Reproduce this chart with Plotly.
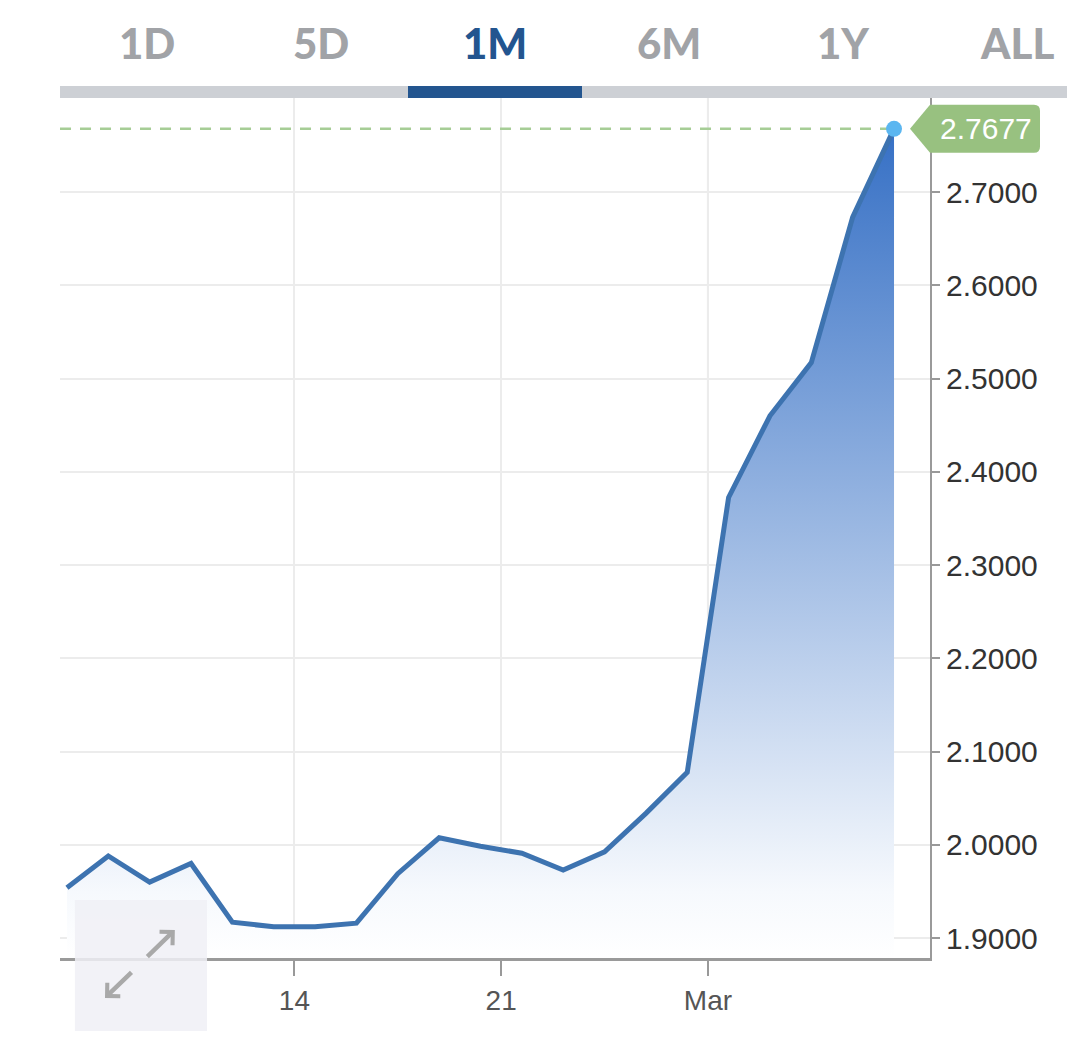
import plotly.graph_objects as go

# one session per point (weekends skipped, the axis is by session)
dates = [
    "2021-02-05",
    "2021-02-08", "2021-02-09", "2021-02-10", "2021-02-11", "2021-02-12",
    "2021-02-15", "2021-02-16", "2021-02-17", "2021-02-18", "2021-02-19",
    "2021-02-22", "2021-02-23", "2021-02-24", "2021-02-25", "2021-02-26",
    "2021-03-01", "2021-03-02", "2021-03-03", "2021-03-04", "2021-03-05",
]
values = [
    1.954,
    1.988, 1.960, 1.980, 1.917, 1.912,
    1.912, 1.916, 1.969, 2.0075, 1.9985,
    1.991, 1.973, 1.9925, 2.0337, 2.0777,
    2.3725, 2.460, 2.517, 2.673, 2.7677,
]

tick_days = ["2021-02-15", "2021-02-22", "2021-03-01"]
tick_labels = ["14", "21", "Mar"]
y_ticks = [1.9, 2.0, 2.1, 2.2, 2.3, 2.4, 2.5, 2.6, 2.7]

tabs = ["1D", "5D", "1M", "6M", "1Y", "ALL"]
active_tab = "1M"

# session index on x, ticks sit between the last session of a week and the first of the next
x = list(range(len(dates)))
tick_pos = [dates.index(d) - 0.5 for d in tick_days]
last = values[-1]

x_range = [-0.168, 20.87]
y_range = [1.8786, 2.8008]

line_blue = "#3d73b0"
green = "#98c180"

fig = go.Figure()

# area + line
fig.add_trace(go.Scatter(
    x=x, y=values, mode="lines",
    line=dict(color=line_blue, width=5),
    fill="tozeroy",
    fillgradient=dict(
        type="vertical",
        colorscale=[[0, "rgba(255,255,255,1)"], [0.08, "rgba(246,249,253,1)"], [1, "rgb(54,112,197)"]],
        start=y_range[0], stop=last,
    ),
    hoverinfo="skip", showlegend=False,
))

# dashed last-value line
fig.add_trace(go.Scatter(
    x=[x_range[0], x[-1]], y=[last, last], mode="lines",
    line=dict(color="#a6cd96", width=2.5, dash="11px,9px"),
    hoverinfo="skip", showlegend=False,
))

# last point marker
fig.add_trace(go.Scatter(
    x=[x[-1]], y=[last], mode="markers",
    marker=dict(color="#5bb6f0", size=16, line=dict(width=0)),
    hoverinfo="skip", showlegend=False, cliponaxis=False,
))

shapes = []

# darker gridline at the month boundary
shapes.append(dict(type="line", xref="x", yref="paper", x0=tick_pos[2], x1=tick_pos[2], y0=0, y1=1,
                   line=dict(color="#d9d9d9", width=2), layer="below"))

# tab bar
shapes.append(dict(type="rect", xref="paper", yref="paper", x0=0, x1=1.2, y0=1.0, y1=1.014,
                   fillcolor="#cdd0d5", line=dict(width=0)))
i_act = tabs.index(active_tab)
shapes.append(dict(type="rect", xref="paper", yref="paper", x0=0.2 * i_act, x1=0.2 * i_act + 0.2,
                   y0=1.0, y1=1.014, fillcolor="#23558f", line=dict(width=0)))

# last-value tag with pointer
shapes.append(dict(
    type="path", xref="paper", xsizemode="pixel", xanchor=1,
    yref="y", ysizemode="pixel", yanchor=last,
    path="M-20,0 L0,24 H104 Q110,24 110,18 V-18 Q110,-24 104,-24 H0 Z",
    fillcolor=green, line=dict(width=0),
))

# expand button
shapes.append(dict(type="rect", xref="paper", yref="paper", x0=0.0172, x1=0.169, y0=-0.085, y1=0.0674,
                   fillcolor="rgba(240,240,246,0.85)", line=dict(width=0)))

annotations = []
for i, t in enumerate(tabs):
    annotations.append(dict(
        text=t, xref="paper", yref="paper", x=0.1 + 0.2 * i, y=1.0645,
        xanchor="center", yanchor="middle", showarrow=False,
        font=dict(family="Lato", size=42, weight=900,
                  color="#23558f" if t == active_tab else "#a1a3a7"),
    ))

annotations.append(dict(
    text=f"{last:.4f}", xref="paper", yref="y", x=1, y=last, xshift=56,
    xanchor="center", yanchor="middle", showarrow=False,
    font=dict(family="Liberation Sans", size=30, color="white"),
))

# expand icon arrows
annotations.append(dict(text="", xref="paper", yref="paper", x=0.132, y=0.0326, ax=-29, ay=28,
                        showarrow=True, arrowhead=4, arrowsize=0.8, arrowwidth=4.5, arrowcolor="#a9a9a9"))
annotations.append(dict(text="", xref="paper", yref="paper", x=0.0517, y=-0.0465, ax=28, ay=-27,
                        showarrow=True, arrowhead=4, arrowsize=0.8, arrowwidth=4.5, arrowcolor="#a9a9a9"))

# the page body adds 8px, so the figure is 8px smaller and the left/top margins shrink by 8
fig.update_layout(
    width=1067, height=1037,
    margin=dict(l=52, r=145, t=90, b=87),
    paper_bgcolor="white", plot_bgcolor="white",
    shapes=shapes, annotations=annotations,
    showlegend=False,
    font=dict(family="Liberation Sans"),
    xaxis=dict(
        range=x_range, tickvals=tick_pos, ticktext=tick_labels,
        showgrid=True, gridcolor="#ececec", gridwidth=2,
        ticks="outside", ticklen=15, tickwidth=2, tickcolor="#999999",
        showline=True, linecolor="#9a9a9a", linewidth=3,
        tickfont=dict(size=28, color="#555555"),
        zeroline=False, fixedrange=True,
    ),
    yaxis=dict(
        side="right", range=y_range, tickvals=y_ticks, tickformat=".4f",
        showgrid=True, gridcolor="#ececec", gridwidth=2,
        ticks="outside", ticklen=8, tickwidth=2, tickcolor="#999999",
        showline=True, linecolor="#9a9a9a", linewidth=2,
        tickfont=dict(size=30, color="#333333"),
        zeroline=False, fixedrange=True,
    ),
)

fig.write_html("out.html")
